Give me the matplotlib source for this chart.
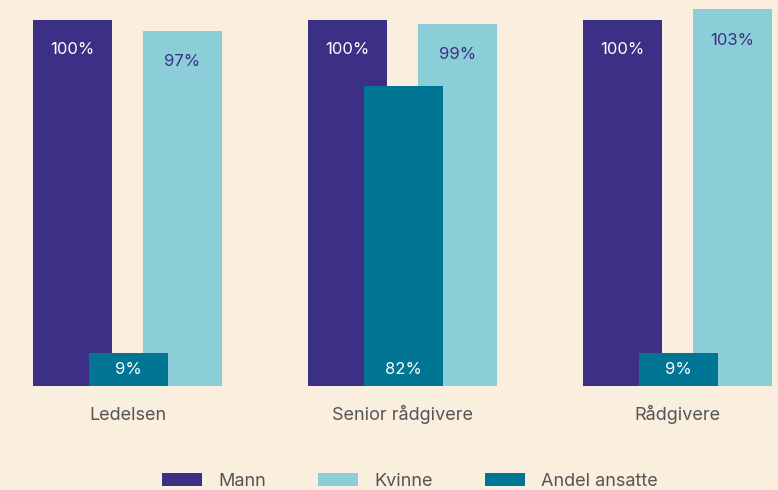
import matplotlib
matplotlib.use("Agg")
import matplotlib.pyplot as plt
import numpy as np

categories = ["Ledelsen", "Senior rådgivere", "Rådgivere"]
mann = [100, 100, 100]
kvinne = [97, 99, 103]
andel_ansatte = [9, 82, 9]
series_names = ["Mann", "Kvinne", "Andel ansatte"]

BG = "#FAEEDF"
C_MANN = "#3B2F86"
C_KVINNE = "#8CCED8"
C_ANDEL = "#007694"
C_TEXT = "#555555"

plt.rcParams["font.family"] = ["Inter", "DejaVu Sans"]

W, H, DPI = 778, 490, 100
fig = plt.figure(figsize=(W / DPI, H / DPI), dpi=DPI, facecolor=BG)

# group spacing in px, first group centre in px, baseline px from top
spacing = 275.0
x0 = 127.5
base = 386.0
px_per_unit = 366.0 / 100
ax = fig.add_axes([0, (H - base) / H, 1, base / H])
ax.set_facecolor(BG)
ax.set_xlim(-x0 / spacing, (W - x0) / spacing)
ax.set_ylim(0, base / px_per_unit)

x = np.arange(len(categories))
width = 79 / spacing
off = 55 / spacing

b1 = ax.bar(x - off, mann, width, color=C_MANN, label=series_names[0], zorder=1)
b2 = ax.bar(x + off, kvinne, width, color=C_KVINNE, label=series_names[1], zorder=1)
b3 = ax.bar(x + 1 / spacing, andel_ansatte, width, color=C_ANDEL,
            label=series_names[2], zorder=2)

fs_val = 12
fs_txt = 13
for xi, v in zip(x - off, mann):
    ax.annotate(f"{v}%", (xi, v), xytext=(0, -30), textcoords="offset pixels",
                ha="center", va="center", color="white", fontsize=fs_val, zorder=3)
for xi, v in zip(x + off, kvinne):
    ax.annotate(f"{v}%", (xi, v), xytext=(0, -31), textcoords="offset pixels",
                ha="center", va="center", color=C_MANN, fontsize=fs_val, zorder=3)
for xi, v in zip(x + 1 / spacing, andel_ansatte):
    ax.annotate(f"{v}%", (xi, 0), xytext=(0, 17), textcoords="offset pixels",
                ha="center", va="center", color="white", fontsize=fs_val, zorder=3)

ax.set_xticks(x)
ax.set_xticklabels(categories, fontsize=fs_txt, color=C_TEXT)
ax.tick_params(axis="x", length=0, pad=34 * 72 / DPI)
for lbl in ax.get_xticklabels():
    lbl.set_verticalalignment("baseline")
ax.set_yticks([])
for s in ax.spines.values():
    s.set_visible(False)

leg = fig.legend(handles=[b1, b2, b3], labels=series_names, loc="center",
                 bbox_to_anchor=(410 / W, 1 - 481.5 / H), ncol=3, frameon=False,
                 fontsize=fs_txt, handlelength=2.2, handleheight=0.72,
                 handletextpad=0.9, columnspacing=2.9, labelcolor=C_TEXT,
                 borderpad=0, borderaxespad=0)

fig.savefig("out.png", dpi=DPI, facecolor=BG)
